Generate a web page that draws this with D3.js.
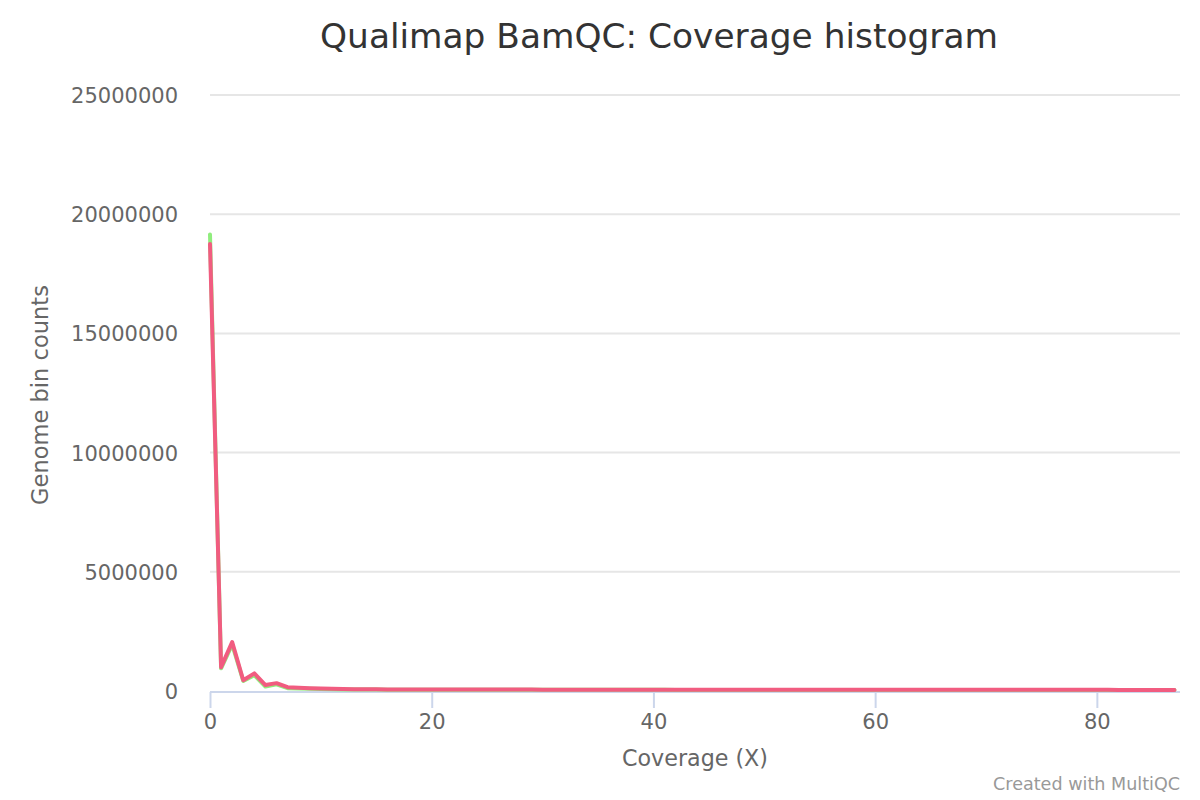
<!DOCTYPE html>
<html>
<head>
<meta charset="utf-8">
<script src="https://cdn.jsdelivr.net/npm/d3@7/dist/d3.min.js"></script>
<style>
  html, body { margin: 0; padding: 0; background: #ffffff; }
  svg { display: block; font-family: "DejaVu Sans", sans-serif; }
</style>
</head>
<body>
<svg id="chart" width="1200" height="800"></svg>
<script>
// ---- Data ----
const coverage = d3.range(0, 88); // categories: coverage 0..87 X
const sampleA = [19150000,950000,1950000,420000,660000,190000,280000,120000,110000,95000,
  85000,75000,68000,63000,60000,58000,57000,56000,55000,54500,
  54000,53500,53000,52500,52000,51500,51000,50500,50000,49800,
  49600,49400,49200,49000,48800,48600,48400,48200,48000,47800,
  47600,47400,47200,47000,46800,46600,46400,46200,46000,45800,
  45600,45400,45200,45000,44800,44600,44400,44200,44000,43800,
  43600,43400,43200,43000,42800,42600,42400,42200,42000,41800,
  41600,41400,41200,41000,40800,40600,40400,40200,40000,39800,
  39600,39400,39200,39000,38800,38600,38400,38200];
const sampleB = [18750000,1000000,2050000,450000,740000,250000,330000,160000,140000,115000,
  100000,90000,82000,76000,72000,69000,67000,65000,64000,63000,
  62000,61500,61000,60500,60000,59500,59000,58500,58000,57800,
  57600,57400,57200,57000,56800,56600,56400,56200,56000,55800,
  55600,55400,55200,55000,54800,54600,54400,54200,54000,53800,
  53600,53400,53200,53000,52800,52600,52400,52200,52000,51800,
  51600,51400,51200,51000,50800,50600,50400,50200,50000,49800,
  49600,49400,49200,49000,48800,48600,48400,48200,48000,47800,
  47600,47400,47200,47000,46800,46600,46400,46200];
const seriesNames = ["Sample A", "Sample B"];
const seriesColors = ["#90ed7d", "#f15c80"];
const yTicks = [0, 5000000, 10000000, 15000000, 20000000, 25000000];
const xTicks = [0, 20, 40, 60, 80];
const titleText = "Qualimap BamQC: Coverage histogram";
const xTitle = "Coverage (X)";
const yTitle = "Genome bin counts";
const creditText = "Created with MultiQC";

// ---- Layout ----
const svg = d3.select("#chart");
const plot = { left: 210, right: 1180, top: 95, bottom: 691 };

const x = d3.scaleLinear().domain([0, 87.5]).range([plot.left, plot.right]);
const y = d3.scaleLinear().domain([0, 25000000]).range([plot.bottom, plot.top]);

function fitText(sel, targetWidth) {
  const node = sel.node();
  const fs = parseFloat(sel.attr("font-size"));
  const w = node.getComputedTextLength();
  if (w > 0) sel.attr("font-size", (fs * targetWidth / w).toFixed(2));
  return sel;
}

// Gridlines
svg.append("g")
  .selectAll("line")
  .data(yTicks.filter(d => d > 0))
  .join("line")
  .attr("x1", plot.left).attr("x2", plot.right)
  .attr("y1", d => y(d)).attr("y2", d => y(d))
  .attr("stroke", "#e6e6e6").attr("stroke-width", 2);

// Y axis (labels only)
const yAxis = d3.axisLeft(y).tickValues(yTicks).tickSize(0).tickPadding(32)
  .tickFormat(d => String(d));
const gy = svg.append("g").attr("transform", `translate(${plot.left},0)`).call(yAxis);
gy.select(".domain").remove();
gy.selectAll("text").attr("fill", "#666666").attr("font-size", 21)
  .attr("font-family", "DejaVu Sans, sans-serif").attr("dy", "0.36em");

// X axis
const xAxis = d3.axisBottom(x).tickValues(xTicks).tickSize(16).tickPadding(6)
  .tickFormat(d => String(d));
const gx = svg.append("g").attr("transform", `translate(0,${plot.bottom + 1})`).call(xAxis);
gx.select(".domain").attr("stroke", "#ccd6eb").attr("stroke-width", 2)
  .attr("d", `M${plot.left},0H${plot.right}`);
gx.selectAll(".tick line").attr("stroke", "#ccd6eb").attr("stroke-width", 2);
gx.selectAll("text").attr("fill", "#666666").attr("font-size", 21)
  .attr("font-family", "DejaVu Sans, sans-serif");

// Lines
const line = d3.line().x((d, i) => x(coverage[i])).y(d => y(d));
const allSeries = [sampleA, sampleB];
svg.append("g")
  .selectAll("path")
  .data(allSeries)
  .join("path")
  .attr("d", d => line(d))
  .attr("fill", "none")
  .attr("stroke", (d, i) => seriesColors[i])
  .attr("stroke-width", 4)
  .attr("stroke-linejoin", "round")
  .attr("stroke-linecap", "round");

// Title
const t = svg.append("text").text(titleText)
  .attr("x", 659).attr("y", 48).attr("text-anchor", "middle")
  .attr("font-size", 32).attr("fill", "#333333");
fitText(t, 678);

// Axis titles
const xt = svg.append("text").text(xTitle)
  .attr("x", 695).attr("y", 766).attr("text-anchor", "middle")
  .attr("font-size", 22).attr("fill", "#666666");
fitText(xt, 146);

const yt = svg.append("text").text(yTitle)
  .attr("transform", "translate(48,395) rotate(-90)").attr("text-anchor", "middle")
  .attr("font-size", 22).attr("fill", "#666666");
fitText(yt, 220);

// Credit
const c = svg.append("text").text(creditText)
  .attr("x", 1180).attr("y", 790).attr("text-anchor", "end")
  .attr("font-size", 16).attr("fill", "#999999");
fitText(c, 187);
</script>
</body>
</html>
